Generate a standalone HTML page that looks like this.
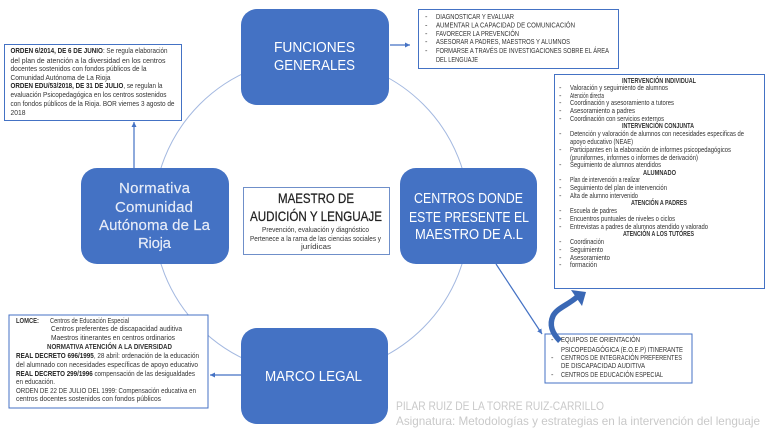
<!DOCTYPE html>
<html lang="es">
<head>
<meta charset="utf-8">
<title>Maestro de Audición y Lenguaje</title>
<style>
html,body{margin:0;padding:0;background:#fff;width:768px;height:433px;overflow:hidden}
svg{display:block;font-family:"Liberation Sans",sans-serif}
.s text{font-size:7.4px;fill:#333}
.b{font-weight:bold;fill:#222}
.h text{fill:#fff;font-size:15px}
.n text{fill:#e8edf8;font-size:15px;stroke:#e8edf8;stroke-width:.15px}
.f text{fill:#c9c9c9;font-size:12px}
</style>
</head>
<body>
<svg width="768" height="433" viewBox="0 0 768 433" xmlns="http://www.w3.org/2000/svg" style="filter:blur(.35px)">
<defs>
<marker id="a" markerUnits="userSpaceOnUse" markerWidth="6" markerHeight="6" refX="5" refY="2.500" orient="auto"><path d="M0 0L5 2.500L0 5Z" fill="#4472c4"/></marker>
</defs>
<circle cx="311.500" cy="216" r="158" fill="none" stroke="#a3b8e0" stroke-width="1"/>

<rect x="241" y="9" width="148" height="96" rx="16" fill="#4472c4"/>
<rect x="81" y="168" width="148" height="96" rx="16" fill="#4472c4"/>
<rect x="400" y="168" width="137" height="96" rx="16" fill="#4472c4"/>
<rect x="241" y="328" width="147" height="96" rx="16" fill="#4472c4"/>

<g fill="none" stroke="#4472c4" stroke-width="1.200">
<line x1="134" y1="168" x2="134" y2="122" marker-end="url(#a)"/>
<line x1="390" y1="45" x2="410" y2="45" marker-end="url(#a)"/>
<line x1="241" y1="375" x2="210" y2="375" marker-end="url(#a)"/>
<line x1="496" y1="264" x2="542" y2="334" marker-end="url(#a)"/>
</g>

<g fill="#fff" stroke="#4472c4" stroke-width="1">
<rect x="4.500" y="44.500" width="177" height="76"/>
<rect x="418.500" y="9.500" width="200" height="59"/>
<rect x="554.500" y="74.500" width="210" height="214"/>
<rect x="9" y="315" width="199" height="93"/>
<rect x="545" y="334" width="147" height="49"/>
</g>
<rect x="243.500" y="187.500" width="146" height="67" fill="#fff" stroke="#6f8fc9" stroke-width="1"/>

<g class="h">
<text x="274" y="52" textLength="81" lengthAdjust="spacingAndGlyphs">FUNCIONES</text>
<text x="274" y="70" textLength="81" lengthAdjust="spacingAndGlyphs">GENERALES</text>
<text x="414" y="203" textLength="109" lengthAdjust="spacingAndGlyphs">CENTROS DONDE</text>
<text x="409" y="222" textLength="120" lengthAdjust="spacingAndGlyphs">ESTE PRESENTE EL</text>
<text x="415" y="239" textLength="108" lengthAdjust="spacingAndGlyphs">MAESTRO DE A.L</text>
<text x="265" y="381" textLength="97" lengthAdjust="spacingAndGlyphs">MARCO LEGAL</text>
</g>
<g class="n">
<text x="119" y="193" textLength="71" lengthAdjust="spacing">Normativa</text>
<text x="115" y="212" textLength="78" lengthAdjust="spacing">Comunidad</text>
<text x="99" y="230" textLength="111" lengthAdjust="spacing">Autónoma de La</text>
<text x="138" y="248" textLength="33" lengthAdjust="spacing">Rioja</text>
</g>

<g font-size="14" fill="#222" stroke="#222" stroke-width=".25">
<text x="278" y="203" textLength="76" lengthAdjust="spacingAndGlyphs">MAESTRO DE</text>
<text x="250" y="221" textLength="132" lengthAdjust="spacingAndGlyphs">AUDICIÓN Y LENGUAJE</text>
</g>
<g class="s">
<text x="262" y="232" textLength="107" lengthAdjust="spacingAndGlyphs">Prevención, evaluación y diagnóstico</text>
<text x="250" y="241" textLength="131" lengthAdjust="spacingAndGlyphs">Pertenece a la rama de las ciencias sociales y</text>
<text x="301" y="249" textLength="30" lengthAdjust="spacingAndGlyphs">jurídicas</text>

<text x="10.500" y="53" textLength="157" lengthAdjust="spacingAndGlyphs"><tspan class="b">ORDEN 6/2014, DE 6 DE JUNIO</tspan>: Se regula elaboración</text>
<text x="10.500" y="63" textLength="155" lengthAdjust="spacingAndGlyphs">del plan de atención a la diversidad en los centros</text>
<text x="10.500" y="71" textLength="136" lengthAdjust="spacingAndGlyphs">docentes sostenidos con fondos públicos de la</text>
<text x="10.500" y="80" textLength="100" lengthAdjust="spacingAndGlyphs">Comunidad Autónoma de La Rioja</text>
<text x="10.500" y="88" textLength="152" lengthAdjust="spacingAndGlyphs"><tspan class="b">ORDEN EDU/53/2018, DE 31 DE JULIO</tspan>, se regulan la</text>
<text x="10.500" y="97" textLength="156" lengthAdjust="spacingAndGlyphs">evaluación Psicopedagógica en los centros sostenidos</text>
<text x="10.500" y="106" textLength="164" lengthAdjust="spacingAndGlyphs">con fondos públicos de la Rioja. BOR viernes 3 agosto de</text>
<text x="10.500" y="115" textLength="15" lengthAdjust="spacingAndGlyphs">2018</text>

<text x="425" y="19">-</text><text x="436" y="19" textLength="78" lengthAdjust="spacingAndGlyphs">DIAGNOSTICAR Y EVALUAR</text>
<text x="425" y="27.500">-</text><text x="436" y="27.500" textLength="139" lengthAdjust="spacingAndGlyphs">AUMENTAR LA CAPACIDAD DE COMUNICACIÓN</text>
<text x="425" y="36">-</text><text x="436" y="36" textLength="83" lengthAdjust="spacingAndGlyphs">FAVORECER LA PREVENCIÓN</text>
<text x="425" y="44">-</text><text x="436" y="44" textLength="134" lengthAdjust="spacingAndGlyphs">ASESORAR A PADRES, MAESTROS Y ALUMNOS</text>
<text x="425" y="53">-</text><text x="436" y="53" textLength="173" lengthAdjust="spacingAndGlyphs">FORMARSE A TRAVÉS DE INVESTIGACIONES SOBRE EL ÁREA</text>
<text x="436" y="62" textLength="42" lengthAdjust="spacingAndGlyphs">DEL LENGUAJE</text>

<text class="b" x="622" y="83" textLength="74" lengthAdjust="spacingAndGlyphs">INTERVENCIÓN INDIVIDUAL</text>
<text x="559" y="90">-</text><text x="570" y="90" textLength="98" lengthAdjust="spacingAndGlyphs">Valoración y seguimiento de alumnos</text>
<text x="559" y="98">-</text><text x="570" y="98" textLength="34" lengthAdjust="spacingAndGlyphs">Atención directa</text>
<text x="559" y="105">-</text><text x="570" y="105" textLength="104" lengthAdjust="spacingAndGlyphs">Coordinación y asesoramiento a tutores</text>
<text x="559" y="113">-</text><text x="570" y="113" textLength="65" lengthAdjust="spacingAndGlyphs">Asesoramiento a  padres</text>
<text x="559" y="121">-</text><text x="570" y="121" textLength="94" lengthAdjust="spacingAndGlyphs">Coordinación con servicios externos</text>
<text class="b" x="622" y="128" textLength="72" lengthAdjust="spacingAndGlyphs">INTERVENCIÓN CONJUNTA</text>
<text x="559" y="136">-</text><text x="570" y="136" textLength="174" lengthAdjust="spacingAndGlyphs">Detención y valoración de alumnos con necesidades especificas de</text>
<text x="570" y="144" textLength="63" lengthAdjust="spacingAndGlyphs">apoyo educativo (NEAE)</text>
<text x="559" y="152">-</text><text x="570" y="152" textLength="161" lengthAdjust="spacingAndGlyphs">Participantes en la elaboración de informes psicopedagógicos</text>
<text x="570" y="160" textLength="128" lengthAdjust="spacingAndGlyphs">(pruniformes, informes o informes de derivación)</text>
<text x="559" y="167">-</text><text x="570" y="167" textLength="91" lengthAdjust="spacingAndGlyphs">Seguimiento de alumnos atendidos</text>
<text class="b" x="643" y="175" textLength="33" lengthAdjust="spacingAndGlyphs">ALUMNADO</text>
<text x="559" y="182">-</text><text x="570" y="182" textLength="70" lengthAdjust="spacingAndGlyphs">Plan de intervención a realizar</text>
<text x="559" y="190">-</text><text x="570" y="190" textLength="97" lengthAdjust="spacingAndGlyphs">Seguimiento del plan de intervención</text>
<text x="559" y="198">-</text><text x="570" y="198" textLength="68" lengthAdjust="spacingAndGlyphs">Alta de alumno intervenido</text>
<text class="b" x="631" y="205" textLength="56" lengthAdjust="spacingAndGlyphs">ATENCIÓN A PADRES</text>
<text x="559" y="213">-</text><text x="570" y="213" textLength="47" lengthAdjust="spacingAndGlyphs">Escuela de padres</text>
<text x="559" y="221">-</text><text x="570" y="221" textLength="105" lengthAdjust="spacingAndGlyphs">Encuentros puntuales de niveles o ciclos</text>
<text x="559" y="229">-</text><text x="570" y="229" textLength="138" lengthAdjust="spacingAndGlyphs">Entrevistas a padres de alumnos atendido y valorado</text>
<text class="b" x="623" y="236" textLength="71" lengthAdjust="spacingAndGlyphs">ATENCIÓN A LOS TUTORES</text>
<text x="559" y="244">-</text><text x="570" y="244" textLength="34" lengthAdjust="spacingAndGlyphs">Coordinación</text>
<text x="559" y="252">-</text><text x="570" y="252" textLength="33" lengthAdjust="spacingAndGlyphs">Seguimiento</text>
<text x="559" y="260">-</text><text x="570" y="260" textLength="40" lengthAdjust="spacingAndGlyphs">Asesoramiento</text>
<text x="559" y="267">-</text><text x="570" y="267" textLength="27" lengthAdjust="spacingAndGlyphs">formación</text>

<text class="b" x="16" y="323" textLength="23" lengthAdjust="spacingAndGlyphs">LOMCE:</text>
<text x="50" y="323" textLength="79" lengthAdjust="spacingAndGlyphs">Centros de Educación Especial</text>
<text x="51" y="331" textLength="131" lengthAdjust="spacingAndGlyphs">Centros preferentes de discapacidad auditiva</text>
<text x="51" y="340" textLength="124" lengthAdjust="spacingAndGlyphs">Maestros itinerantes en centros ordinarios</text>
<text class="b" x="47" y="349" textLength="125" lengthAdjust="spacingAndGlyphs">NORMATIVA ATENCIÓN A LA DIVERSIDAD</text>
<text x="16" y="358" textLength="183" lengthAdjust="spacingAndGlyphs"><tspan class="b">REAL DECRETO 696/1995</tspan>, 28 abril:  ordenación de la educación</text>
<text x="16" y="367" textLength="182" lengthAdjust="spacingAndGlyphs">del alumnado con necesidades específicas de apoyo educativo</text>
<text x="16" y="376" textLength="179" lengthAdjust="spacingAndGlyphs"><tspan class="b">REAL DECRETO 299/1996</tspan> compensación de las desigualdades</text>
<text x="16" y="384" textLength="39" lengthAdjust="spacingAndGlyphs">en educación.</text>
<text x="16" y="393" textLength="180" lengthAdjust="spacingAndGlyphs">ORDEN DE 22 DE JULIO DEL 1999: Compensación educativa en</text>
<text x="16" y="401" textLength="145" lengthAdjust="spacingAndGlyphs">centros docentes sostenidos con fondos públicos</text>

<text x="551" y="342">-</text><text x="561" y="342" textLength="79" lengthAdjust="spacingAndGlyphs">EQUIPOS DE ORIENTACIÓN</text>
<text x="561" y="352" textLength="122" lengthAdjust="spacingAndGlyphs">PSICOPEDAGÓGICA  (E.O.E.P) ITINERANTE</text>
<text x="551" y="360">-</text><text x="561" y="360" textLength="121" lengthAdjust="spacingAndGlyphs">CENTROS DE INTEGRACIÓN PREFERENTES</text>
<text x="561" y="368" textLength="84" lengthAdjust="spacingAndGlyphs">DE DISCAPACIDAD AUDITIVA</text>
<text x="551" y="377">-</text><text x="561" y="377" textLength="102" lengthAdjust="spacingAndGlyphs">CENTROS DE EDUCACIÓN ESPECIAL</text>
</g>

<path d="M560 341C552 333 549 325 553 316C557 308 568 305 577 297" fill="none" stroke="#3a68b5" stroke-width="5.500"/>
<path d="M571 290L586 292L582 306Z" fill="#3a68b5"/>

<g class="f">
<text x="396" y="410" textLength="208" lengthAdjust="spacingAndGlyphs">PILAR RUIZ DE LA TORRE RUIZ-CARRILLO</text>
<text x="396" y="425" textLength="364" lengthAdjust="spacingAndGlyphs">Asignatura: Metodologías y estrategias en la intervención del lenguaje</text>
</g>
</svg>
</body>
</html>
